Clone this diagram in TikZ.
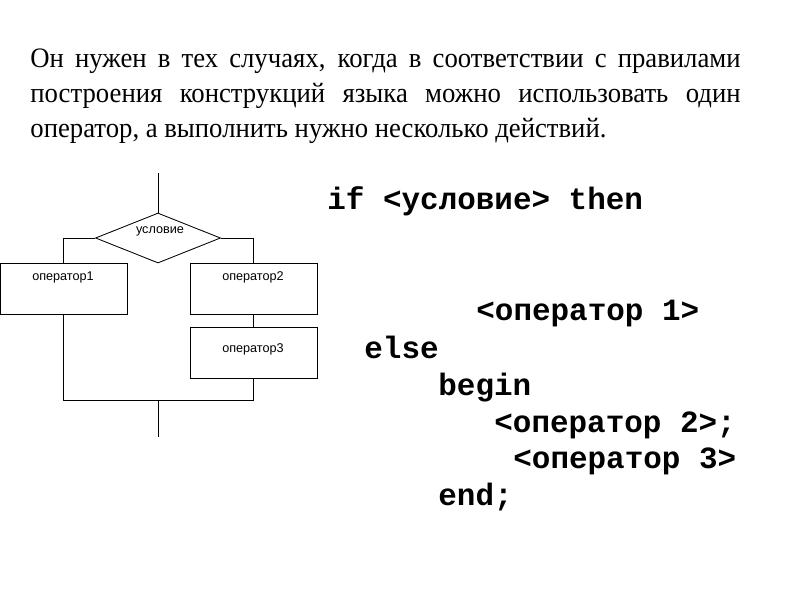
\documentclass[tikz,border=0pt]{standalone}
\usepackage{fontspec}
\setmainfont{Liberation Serif}
\newfontfamily\parafont[FakeStretch=0.95]{Liberation Serif}
\newfontfamily\codefont{Liberation Mono}
\newfontfamily\flowfont{Liberation Sans}
\usetikzlibrary{shapes.geometric}

\begin{document}
\begin{tikzpicture}[
  x=0.025cm, y=-0.025cm,
  line width=0.6pt,
  txtline/.style={anchor=base west, inner sep=0pt, font=\parafont\fontsize{20}{24}\selectfont},
  codeline/.style={anchor=base west, inner sep=0pt, font=\codefont\bfseries\fontsize{22}{26}\selectfont},
  cond/.style={
    draw,
    diamond,
    inner sep=0pt,
    minimum width=3.125cm,
    minimum height=1.25cm
  },
  opbox/.style={
    draw,
    rectangle,
    inner sep=0pt,
    minimum width=3.175cm,
    minimum height=1.275cm
  },
  flowtxt/.style={font=\flowfont\fontsize{9}{11}\selectfont, inner sep=0pt},
]
\useasboundingbox (0,0) rectangle (800,600);

% Paragraph.
\node[txtline] (par1) at (30,67) {\makebox[17.75cm][s]{Он нужен в тех случаях, когда в соответствии с правилами}};
\node[txtline] (par2) at (30,102) {\makebox[17.75cm][s]{построения конструкций языка можно использовать один}};
\node[txtline] (par3) at (30,137) {оператор, а выполнить нужно несколько действий.};

% Flowchart.
\coordinate (entry) at (158,173);
\node[cond] (cond) at (158,238) {};
\node[flowtxt] (condtxt) at (160,231) {условие};
\node[opbox] (op1) at (63.5,288.5) {};
\node[opbox] (op2) at (253.5,288.5) {};
\node[opbox] (op3) at (253.5,352.5) {};
\node[flowtxt] (op1txt) at (63,277) {оператор1};
\node[flowtxt] (op2txt) at (253,277) {оператор2};
\node[flowtxt] (op3txt) at (253,349) {оператор3};
\coordinate (join) at (158,400);
\coordinate (exit) at (158,437);

\draw (entry) -- (cond.north);
\draw (cond.west) -| (op1.north);
\draw (cond.east) -| (op2.north);
\draw (op2) -- (op3);
\draw (op1.south) |- (join) -| (op3.south);
\draw (join) -- (exit);

% Pascal code.
\node[codeline] (ifline) at (327,209) {if <условие> then};
\node[codeline] (stmt1) at (476,320) {<оператор 1>};
\node[codeline] (elseline) at (364,358) {else};
\node[codeline] (beginline) at (438,395) {begin};
\node[codeline] (stmt2) at (494,432) {<оператор 2>;};
\node[codeline] (stmt3) at (513,468) {<оператор 3>};
\node[codeline] (endline) at (438,505) {end;};

\end{tikzpicture}
\end{document}
